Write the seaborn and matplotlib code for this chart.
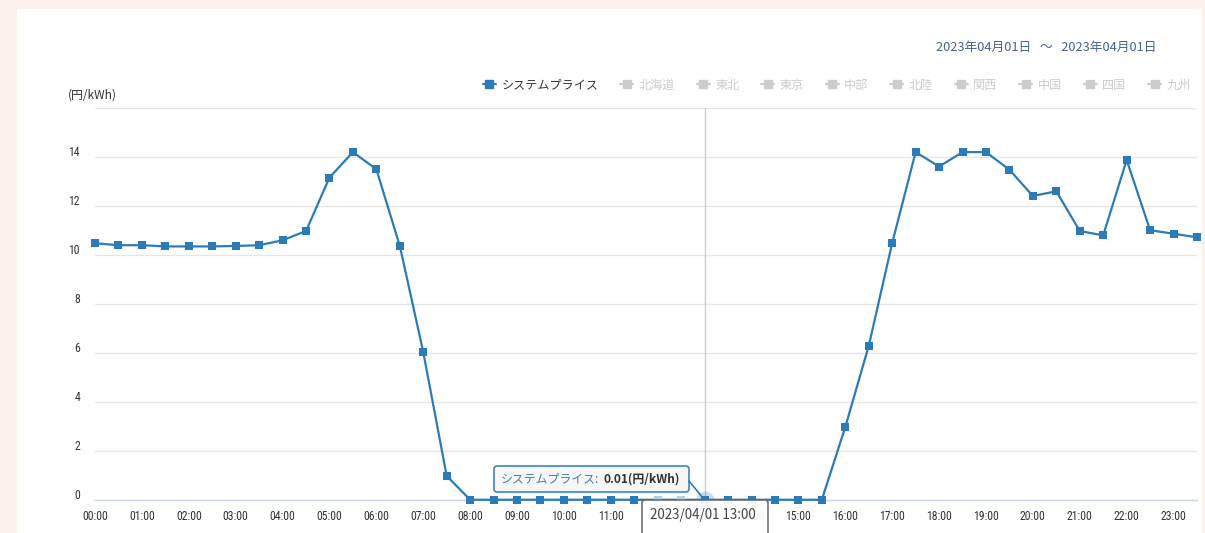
import matplotlib
matplotlib.use("Agg")
import matplotlib.pyplot as plt
import matplotlib.transforms as mtransforms
from matplotlib.lines import Line2D
from matplotlib.patches import FancyBboxPatch, Rectangle
from matplotlib import font_manager as fm
import seaborn as sns
import pandas as pd

# ---------------- data ----------------
times = [f"{h:02d}:{m:02d}" for h in range(24) for m in (0, 30)]
prices = [10.48, 10.40, 10.40, 10.35, 10.35, 10.35, 10.37, 10.40,
          10.60, 10.98, 13.16, 14.20, 13.50, 10.37, 6.04, 0.98,
          0.01, 0.01, 0.01, 0.01, 0.01, 0.01, 0.01, 0.01,
          0.01, 0.01, 0.01, 0.01, 0.01, 0.01, 0.01, 0.01,
          2.98, 6.29, 10.49, 14.20, 13.61, 14.20, 14.20, 13.48,
          12.41, 12.60, 10.98, 10.80, 13.88, 11.01, 10.87, 10.72]
xtick_labels = [f"{h:02d}:00" for h in range(24)]
ytick_values = [0, 2, 4, 6, 8, 10, 12, 14, 16]
ytick_labels = ["0", "2", "4", "6", "8", "10", "12", "14", ""]
legend_names = ["システムプライス", "北海道", "東北", "東京", "中部", "北陸", "関西", "中国", "四国", "九州"]
unit_label = "(円/kWh)"
date_range = "2023年04月01日   ～   2023年04月01日"
hover_time = "13:00"
faded_times = ["12:00", "12:30"]
tooltip_series = "システムプライス:"
tooltip_value = "0.01(円/kWh)"
tooltip_date = "2023/04/01 13:00"

df = pd.DataFrame({"time": times, "price": prices})
df["hour"] = [int(t[:2]) + int(t[3:]) / 60 for t in df["time"]]

# ---------------- style ----------------
W, H = 1205, 533
BLUE = "#2b7bb9"
JP = "Noto Sans CJK JP"

ttf = fm.fontManager.ttflist
names = {f.name for f in ttf}
narrow_family, narrow_stretch = "Roboto", "normal"
for cand in ["Liberation Sans Narrow", "Roboto Condensed", "Arial Narrow"]:
    if cand in names:
        narrow_family = cand
        break
else:
    if any(f.name == "DejaVu Sans" and f.stretch in ("condensed", "semi-condensed") for f in ttf):
        narrow_family, narrow_stretch = "DejaVu Sans", "condensed"

sns.set_style("white")
plt.rcParams["font.family"] = [JP, "DejaVu Sans"]

fig = plt.figure(figsize=(W / 100, H / 100), dpi=100, facecolor="#fdf1ec")
PX = mtransforms.IdentityTransform()

panel = Rectangle((17, 0), 1202 - 17, H - 9, transform=PX,
                  facecolor="white", edgecolor="none", zorder=-10)
fig.add_artist(panel)

ax = fig.add_axes([95 / W, 33 / H, (1197 - 95) / W, (500 - 108) / H])
ax.set_facecolor("none")

ax.axvline(int(hover_time[:2]) + int(hover_time[3:]) / 60, color="#cccccc", lw=1, zorder=1)

sns.lineplot(data=df, x="hour", y="price", ax=ax, color=BLUE, marker="s",
             markersize=6, markeredgewidth=0, linewidth=1.6, clip_on=False,
             legend=False, zorder=3)

fd = df[df["time"].isin(faded_times)]
ax.scatter(fd["hour"], fd["price"], s=40, marker="s", color="#b3cfe6",
           linewidths=0, zorder=4, clip_on=False)

hv = df[df["time"] == hover_time]
ax.scatter(hv["hour"], hv["price"], s=170, color=BLUE, alpha=0.25,
           linewidths=0, zorder=4, clip_on=False)

ax.set_xlim(0, 23.5)
ax.set_ylim(0, 16)
ax.set_xlabel("")
ax.set_ylabel("")
ax.set_xticks(range(24))
ax.set_xticklabels(xtick_labels)
ax.set_yticks(ytick_values)
ax.set_yticklabels(ytick_labels)
ax.yaxis.grid(True, color="#e6e6e6", lw=1)
ax.xaxis.grid(False)
for s in ["left", "right", "top"]:
    ax.spines[s].set_visible(False)
ax.spines["bottom"].set_color("#ccd6eb")
ax.spines["bottom"].set_linewidth(1)
ax.tick_params(axis="y", length=0, pad=10.8, labelsize=8.5, labelcolor="#333333")
ax.tick_params(axis="x", direction="in", length=6.5, width=1, color="#ccd6eb",
               pad=7.2, labelsize=8.5, labelcolor="#333333")
for lab in ax.get_xticklabels() + ax.get_yticklabels():
    lab.set_family([narrow_family, "DejaVu Sans"])
    lab.set_stretch(narrow_stretch)
off = mtransforms.ScaledTranslation(0, 6 / 100, fig.dpi_scale_trans)
for lab in ax.get_yticklabels():
    lab.set_transform(lab.get_transform() + off)

# ---------------- titles ----------------
fig.text(68 / W, 1 - 95 / H, unit_label, ha="left", va="center",
         fontsize=8.6, color="#333333")
fig.text(1156 / W, 1 - 47 / H, date_range, ha="right", va="center",
         fontsize=9.2, color="#45619d")

# ---------------- legend ----------------
colors = [BLUE] + ["#cccccc"] * (len(legend_names) - 1)
handles = [Line2D([], [], color=c, marker="s", markersize=5.5, lw=1.5) for c in colors]
leg = fig.legend(handles, legend_names, loc="center right",
                 bbox_to_anchor=(1191 / W, 1 - 85 / H), ncol=len(legend_names),
                 frameon=False, prop={"family": [JP], "size": 8.7},
                 handlelength=1.1, handletextpad=0.45, columnspacing=1.78,
                 borderpad=0, borderaxespad=0)
for t, c in zip(leg.get_texts(), ["#333333"] + ["#cccccc"] * 9):
    t.set_color(c)

# ---------------- tooltip ----------------
tip = FancyBboxPatch((494, H - 492), 689 - 494, 492 - 466, transform=PX,
                     boxstyle="round,pad=0,rounding_size=3",
                     facecolor="#f7f7f7", alpha=0.9, edgecolor=BLUE, lw=1.2, zorder=10)
fig.add_artist(tip)
fig.add_artist(Line2D([689, 703], [H - 481, H - 498], transform=PX,
                      color=BLUE, lw=1.2, zorder=10))
t1 = fig.text(501, H - 479, tooltip_series, transform=PX, ha="left", va="center",
              fontsize=8.6, color="#3a7bbf", zorder=11)
fig.add_artist(matplotlib.text.Annotation(
    tooltip_value, xy=(1, 0.5), xycoords=t1, xytext=(4, 0), textcoords="offset pixels",
    ha="left", va="center", fontsize=8.6, fontweight="bold", color="#333333", zorder=11))

datebox = FancyBboxPatch((642, -8), 768 - 642, 41, transform=PX,
                         boxstyle="round,pad=0,rounding_size=3",
                         facecolor="white", alpha=0.92, edgecolor="#666666", lw=1.2, zorder=10)
fig.add_artist(datebox)
fig.text(650, H - 515, tooltip_date, transform=PX, ha="left", va="center",
         fontsize=9.6, color="#444444", zorder=11)

fig.savefig("out.png", dpi=100, facecolor=fig.get_facecolor())
